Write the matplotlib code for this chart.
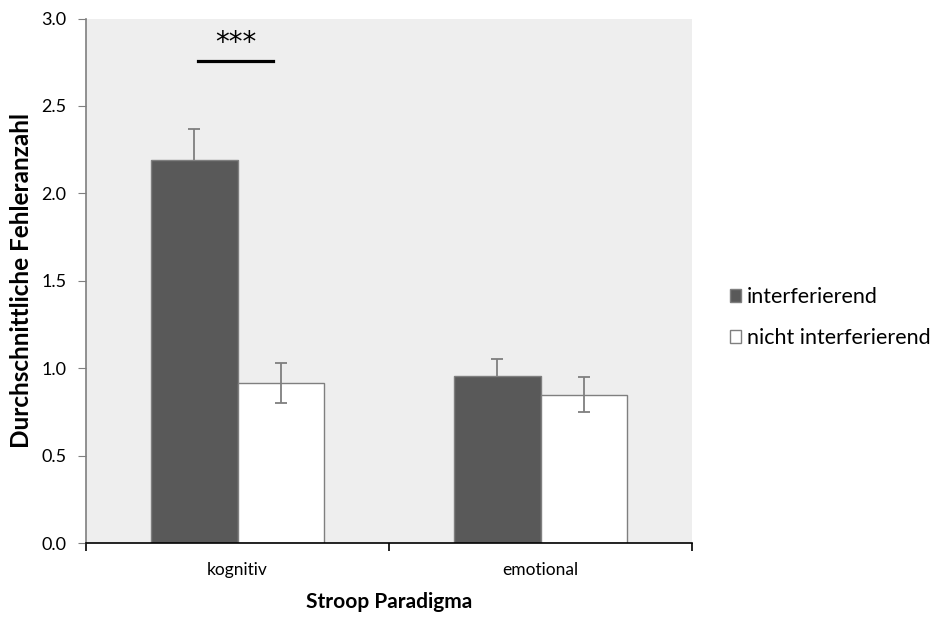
import numpy as np
import matplotlib.pyplot as plt
plt.rcParams['font.family'] = ['Lato', 'DejaVu Sans']

# Daten
kategorien = ['kognitiv', 'emotional']
interferierend = [2.19, 0.955]
interferierend_err = [0.18, 0.10]
nicht_interferierend = [0.915, 0.847]
nicht_interferierend_err = [0.115, 0.10]
serien = ['interferierend', 'nicht interferierend']

fig = plt.figure(figsize=(9.34, 6.17), dpi=100)
ax = fig.add_axes([0.0921, 0.1199, 0.6488, 0.8501])
ax.set_facecolor('#eeeeee')

x = np.arange(len(kategorien))
w = 0.287
grau = '#7f7f7f'
ax.bar(x - w / 2, interferierend, w, color='#595959', edgecolor=grau, linewidth=1,
       label=serien[0], zorder=2)
ax.bar(x + w / 2, nicht_interferierend, w, color='white', edgecolor=grau, linewidth=1,
       label=serien[1], zorder=2)
# Fehlerbalken der dunklen Balken liegen hinter dem Balken
ax.errorbar(x - w / 2, interferierend, yerr=interferierend_err, fmt='none',
            ecolor=grau, elinewidth=1.3, capsize=4, capthick=1.3, zorder=1.5)
ax.errorbar(x + w / 2, nicht_interferierend, yerr=nicht_interferierend_err, fmt='none',
            ecolor=grau, elinewidth=1.3, capsize=4, capthick=1.3, zorder=3)

# Signifikanz
ax.plot([-0.13, 0.117], [2.757, 2.757], color='black', linewidth=2.3, zorder=3)
ax.text(-0.007, 2.86, '***', ha='center', va='center', fontsize=20,
        family='DejaVu Sans')

# Achsen
ax.set_xlim(-0.5, 1.5)
ax.set_ylim(0, 3.0)
ax.set_yticks(np.arange(0, 3.01, 0.5))
ax.set_yticklabels([f'{v:.1f}' for v in np.arange(0, 3.01, 0.5)], fontsize=13)
ax.set_xticks(x)
ax.set_xticklabels(kategorien, fontsize=12.5)
ax.tick_params(axis='x', which='major', length=0, pad=14)
ax.set_xticks([-0.5, 0.5, 1.5], minor=True)
ax.tick_params(axis='x', which='minor', length=6, width=1.2, color='black')
ax.tick_params(axis='y', length=6, color=grau, pad=8)
for s in ['top', 'right']:
    ax.spines[s].set_visible(False)
ax.spines['left'].set_color(grau)
ax.spines['left'].set_linewidth(1.2)
ax.spines['bottom'].set_color('black')
ax.spines['bottom'].set_linewidth(1.2)

ax.set_xlabel('Stroop Paradigma', fontsize=15, fontweight='bold', labelpad=10)
ax.set_ylabel('Durchschnittliche Fehleranzahl', fontsize=17.5, fontweight='bold', labelpad=6)

ax.legend(loc='center left', bbox_to_anchor=(1.03, 0.43), frameon=False, fontsize=15.5,
          handlelength=0.55, handleheight=0.55, handletextpad=0.25, labelspacing=1.0)

plt.savefig('out.png', dpi=100)
